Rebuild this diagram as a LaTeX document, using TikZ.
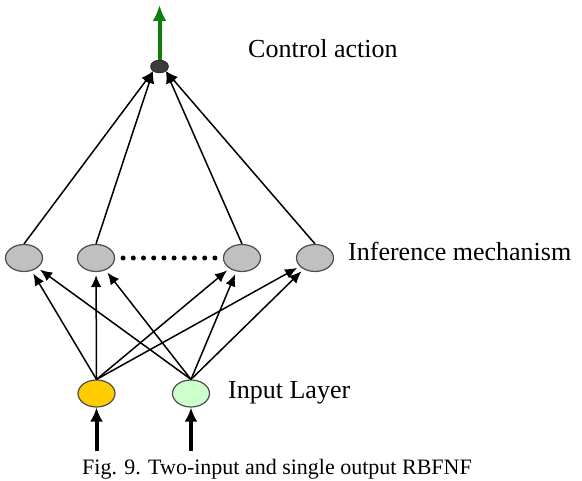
\documentclass[tikz,border=0pt]{standalone}
\usepackage{fontspec}
\setmainfont{Liberation Serif}
\usetikzlibrary{shapes, arrows.meta}

\definecolor{infgray}{RGB}{192,192,192}
\definecolor{inyellow}{RGB}{255,204,0}
\definecolor{ingreen}{RGB}{204,255,204}
\definecolor{outdark}{RGB}{60,60,60}
\definecolor{actgreen}{RGB}{10,128,10}

\begin{document}
\begin{tikzpicture}[x=1pt, y=-1pt,
    main/.style = {draw=black!70, ellipse, line width=1.2pt, minimum width=37pt, minimum height=27pt, inner sep=0pt},
    link/.style = {-{Latex[length=12pt,width=10.5pt]}, line width=1.5pt, shorten >=3pt},
    feed/.style = {-{Latex[length=14pt,width=13pt]}, line width=4pt},
    lbl/.style = {anchor=base west, inner sep=0pt, font=\fontsize{26}{30}\selectfont}]
    \useasboundingbox (0,0) rectangle (582,481);

    % output
    \node[draw=black, ellipse, fill=outdark, minimum width=18pt, minimum height=13pt, inner sep=0pt] at (159.5, 66.5) (O) {};
    \coordinate (act) at (159.5, 5);

    % inference mechanism
    \node[main, fill=infgray] at (24, 258) (R1) {};
    \node[main, fill=infgray] at (96, 258) (R2) {};
    \node[main, fill=infgray] at (242, 258) (R3) {};
    \node[main, fill=infgray] at (315, 258) (R4) {};

    % input layer
    \node[main, fill=inyellow] at (96.5, 393.5) (X1) {};
    \node[main, fill=ingreen] at (191, 393.5) (X2) {};
    \coordinate (x1) at (96.5, 451);
    \coordinate (x2) at (191, 451);

    \draw [feed, actgreen, -{Latex[length=16pt,width=14pt]}] (O.north) -- (act);
    \draw [feed] (x1) -- (X1.south);
    \draw [feed] (x2) -- (X2.south);

    \draw [link, shorten >=0pt] (R1.north) -- (O.south west);
    \draw [link, shorten >=0pt] (R2.north) -- (O.south west);
    \draw [link, shorten >=0pt] (R3.north) -- (O.south east);
    \draw [link, shorten >=0pt] (R4.north) -- (O.south east);

    \draw [link] (X1.north) -- (R1);
    \draw [link] (X1.north) -- (R2);
    \draw [link] (X1.north) -- (R3);
    \draw [link] (X1.north) -- (R4);
    \draw [link] (X2.north) -- (R1);
    \draw [link] (X2.north) -- (R2);
    \draw [link] (X2.north) -- (R3);
    \draw [link] (X2.north) -- (R4);

    \draw [line width=5pt, line cap=round, dash pattern=on 0pt off 10.2pt, shorten <=8pt, shorten >=8pt] (R2.east) -- (R3.west);

    \node[lbl] at (248, 58) (t1) {Control action};
    \node[lbl] at (348, 261) (t2) {Inference mechanism};
    \node[lbl] at (228, 399) (t3) {Input Layer};
    \node[lbl, font=\fontsize{22}{26}\selectfont] at (82, 475) (cap) {Fig. 9. Two-input and single output RBFNF};
\end{tikzpicture}
\end{document}
